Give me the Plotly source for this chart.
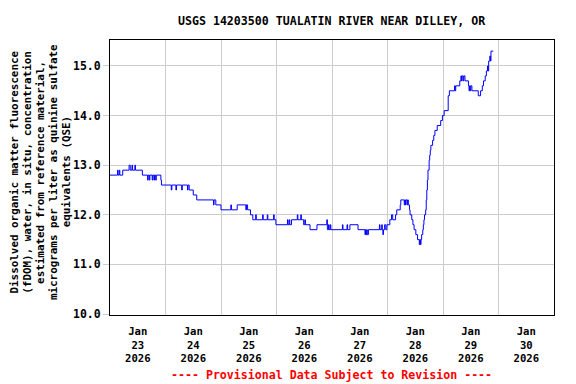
import plotly.graph_objects as go

# Breakpoints of the 15-minute fDOM record (step series)
times = [
    "2026-01-23 00:00", "2026-01-23 03:15", "2026-01-23 03:30", "2026-01-23 04:00", "2026-01-23 04:15",
    "2026-01-23 05:30", "2026-01-23 08:15", "2026-01-23 08:45", "2026-01-23 09:30", "2026-01-23 09:45",
    "2026-01-23 10:45", "2026-01-23 11:00", "2026-01-23 14:00", "2026-01-23 16:15", "2026-01-23 16:30",
    "2026-01-23 17:00", "2026-01-23 17:15", "2026-01-23 18:15", "2026-01-23 18:30", "2026-01-23 19:00",
    "2026-01-23 19:15", "2026-01-23 19:45", "2026-01-23 20:00", "2026-01-23 22:00", "2026-01-23 22:15",
    "2026-01-24 02:30", "2026-01-24 02:45", "2026-01-24 04:30", "2026-01-24 04:45", "2026-01-24 07:00",
    "2026-01-24 07:15", "2026-01-24 09:30", "2026-01-24 09:45", "2026-01-24 10:15", "2026-01-24 12:00",
    "2026-01-24 13:30", "2026-01-24 20:45", "2026-01-24 21:00", "2026-01-24 21:45", "2026-01-25 00:00",
    "2026-01-25 04:15", "2026-01-25 04:30", "2026-01-25 07:00", "2026-01-25 10:45", "2026-01-25 11:00",
    "2026-01-25 11:30", "2026-01-25 12:45", "2026-01-25 13:45", "2026-01-25 15:00", "2026-01-25 15:15",
    "2026-01-25 18:00", "2026-01-25 18:15", "2026-01-25 20:00", "2026-01-25 20:15", "2026-01-25 22:45",
    "2026-01-25 23:00", "2026-01-25 23:45", "2026-01-26 04:45", "2026-01-26 05:00", "2026-01-26 05:30",
    "2026-01-26 05:45", "2026-01-26 06:30", "2026-01-26 09:00", "2026-01-26 09:15", "2026-01-26 10:30",
    "2026-01-26 10:45", "2026-01-26 11:45", "2026-01-26 12:15", "2026-01-26 12:30", "2026-01-26 14:30",
    "2026-01-26 17:30", "2026-01-26 21:45", "2026-01-26 22:00", "2026-01-26 22:30", "2026-01-26 22:45",
    "2026-01-26 23:15", "2026-01-26 23:30", "2026-01-27 04:30", "2026-01-27 04:45", "2026-01-27 06:30",
    "2026-01-27 06:45", "2026-01-27 07:45", "2026-01-27 11:15", "2026-01-27 14:15", "2026-01-27 14:30",
    "2026-01-27 14:45", "2026-01-27 15:00", "2026-01-27 15:15", "2026-01-27 15:45", "2026-01-27 20:30",
    "2026-01-27 20:45", "2026-01-27 21:30", "2026-01-27 21:45", "2026-01-27 22:00", "2026-01-27 22:15",
    "2026-01-27 22:45", "2026-01-27 23:15", "2026-01-27 23:45", "2026-01-28 01:00", "2026-01-28 01:45",
    "2026-01-28 02:15", "2026-01-28 03:30", "2026-01-28 04:00", "2026-01-28 05:30", "2026-01-28 05:45",
    "2026-01-28 07:15", "2026-01-28 07:30", "2026-01-28 07:45", "2026-01-28 08:00", "2026-01-28 08:30",
    "2026-01-28 08:45", "2026-01-28 09:00", "2026-01-28 09:30", "2026-01-28 09:45", "2026-01-28 10:30",
    "2026-01-28 11:00", "2026-01-28 11:30", "2026-01-28 12:15", "2026-01-28 13:00", "2026-01-28 13:45",
    "2026-01-28 14:00", "2026-01-28 14:15", "2026-01-28 14:30", "2026-01-28 14:45", "2026-01-28 15:15",
    "2026-01-28 15:30", "2026-01-28 15:45", "2026-01-28 16:00", "2026-01-28 16:30", "2026-01-28 16:45",
    "2026-01-28 17:00", "2026-01-28 17:15", "2026-01-28 17:30", "2026-01-28 18:00", "2026-01-28 18:15",
    "2026-01-28 18:30", "2026-01-28 18:45", "2026-01-28 19:30", "2026-01-28 20:00", "2026-01-28 20:30",
    "2026-01-28 21:30", "2026-01-28 23:00", "2026-01-28 23:45", "2026-01-29 00:30", "2026-01-29 02:15",
    "2026-01-29 02:45", "2026-01-29 05:00", "2026-01-29 05:15", "2026-01-29 05:30", "2026-01-29 07:15",
    "2026-01-29 07:45", "2026-01-29 08:00", "2026-01-29 08:15", "2026-01-29 08:45", "2026-01-29 09:00",
    "2026-01-29 09:30", "2026-01-29 11:00", "2026-01-29 11:15", "2026-01-29 11:30", "2026-01-29 11:45",
    "2026-01-29 12:00", "2026-01-29 12:30", "2026-01-29 15:15", "2026-01-29 16:15", "2026-01-29 17:00",
    "2026-01-29 17:30", "2026-01-29 18:15", "2026-01-29 18:45", "2026-01-29 19:15", "2026-01-29 19:30",
    "2026-01-29 19:45", "2026-01-29 20:15", "2026-01-29 20:30", "2026-01-29 20:45", "2026-01-29 21:45",
]
values = [
    12.8, 12.9, 12.8, 12.9, 12.8,
    12.9, 13.0, 12.9, 13.0, 12.9,
    13.0, 12.9, 12.8, 12.7, 12.8,
    12.7, 12.8, 12.7, 12.8, 12.7,
    12.8, 12.7, 12.8, 12.7, 12.6,
    12.5, 12.6, 12.5, 12.6, 12.5,
    12.6, 12.5, 12.6, 12.5, 12.4,
    12.3, 12.2, 12.3, 12.2, 12.1,
    12.2, 12.1, 12.2, 12.1, 12.2,
    12.1, 12.0, 11.9, 12.0, 11.9,
    12.0, 11.9, 12.0, 11.9, 12.0,
    11.9, 11.8, 11.9, 11.8, 11.9,
    11.8, 11.9, 12.0, 11.9, 12.0,
    11.9, 11.8, 11.9, 11.8, 11.7,
    11.8, 11.9, 11.7, 11.8, 11.7,
    11.8, 11.7, 11.8, 11.7, 11.8,
    11.7, 11.8, 11.7, 11.6, 11.7,
    11.6, 11.7, 11.6, 11.7, 11.8,
    11.7, 11.8, 11.7, 11.6, 11.7,
    11.8, 11.7, 11.8, 11.9, 12.0,
    11.9, 12.0, 12.1, 12.2, 12.3,
    12.2, 12.3, 12.2, 12.3, 12.2,
    12.3, 12.2, 12.1, 12.0, 11.9,
    11.8, 11.7, 11.6, 11.5, 11.4,
    11.5, 11.4, 11.5, 11.6, 11.7,
    11.8, 11.9, 12.0, 12.1, 12.3,
    12.5, 12.7, 12.9, 13.1, 13.2,
    13.3, 13.4, 13.5, 13.6, 13.7,
    13.8, 13.9, 14.0, 14.1, 14.4,
    14.5, 14.6, 14.5, 14.6, 14.7,
    14.8, 14.7, 14.8, 14.7, 14.8,
    14.7, 14.6, 14.5, 14.6, 14.5,
    14.6, 14.5, 14.4, 14.5, 14.6,
    14.7, 14.8, 14.9, 15.0, 14.9,
    15.1, 15.2, 15.1, 15.3, 15.3,
]

day_ticks = ["2026-01-%02d 12:00" % d for d in range(23, 31)]
day_labels = ["Jan<br>%d<br>2026" % d for d in range(23, 31)]
y_ticks = [10.0, 11.0, 12.0, 13.0, 14.0, 15.0]

title_text = "USGS 14203500 TUALATIN RIVER NEAR DILLEY, OR"
ytitle_lines = [
    "Dissolved organic matter fluorescence",
    "(fDOM), water, in situ, concentration",
    "estimated from reference material,",
    "micrograms per liter as quinine sulfate",
    "equivalents (QSE)",
]
footer_text = "---- Provisional Data Subject to Revision ----"

FONT = "DejaVu Sans Mono"
OFF = 8                      # page body margin of the html page
W, H = 576 - OFF, 384 - OFF
L, R, T, B = 110 - OFF, 22, 40 - OFF, 69
PW, PH = W - L - R, H - T - B


def px_x(page_x):
    return (page_x - OFF - L) / PW


def px_y(page_y):
    return 1 - (page_y - OFF - T) / PH


fig = go.Figure()
fig.add_trace(go.Scatter(
    x=times, y=values, mode="lines",
    line=dict(color="#0000ff", width=1, shape="hv"),
    hoverinfo="skip", showlegend=False,
))

annotations = [
    dict(text=title_text, xref="paper", yref="paper",
         x=px_x(331), y=px_y(20.5), xanchor="center", yanchor="middle",
         showarrow=False, font=dict(family=FONT, size=11.6, color="black", weight="bold")),
    dict(text=footer_text, xref="paper", yref="paper",
         x=px_x(331.5), y=px_y(375), xanchor="center", yanchor="middle",
         showarrow=False, font=dict(family=FONT, size=11.6, color="#ff0000", weight="bold")),
]
for i, line in enumerate(ytitle_lines):
    annotations.append(dict(
        text=line, xref="paper", yref="paper",
        x=px_x(13.5 + 13.2 * i), y=px_y(172),
        xanchor="center", yanchor="middle", textangle=-90,
        showarrow=False, font=dict(family=FONT, size=10.9, color="black", weight="bold"),
    ))

fig.update_layout(
    width=W, height=H,
    margin=dict(l=L, r=R, t=T, b=B, pad=0),
    paper_bgcolor="white", plot_bgcolor="white",
    annotations=annotations,
    xaxis=dict(
        range=["2026-01-23 00:00", "2026-01-31 00:00"],
        tickmode="array", tickvals=day_ticks, ticktext=day_labels,
        ticks="", showgrid=False, zeroline=False,
        showline=True, mirror=True, linecolor="black", linewidth=1,
        ticklabelstandoff=6,
        tickfont=dict(family=FONT, size=10.6, color="black", weight="bold"),
        minor=dict(dtick=86400000, tick0="2026-01-23", showgrid=True,
                   gridcolor="#cccccc", gridwidth=1, ticks=""),
    ),
    yaxis=dict(
        range=[9.98, 15.524],
        tickmode="array", tickvals=y_ticks, tickformat=".1f",
        ticks="outside", ticklen=6, tickcolor="#cccccc",
        showgrid=True, gridcolor="#cccccc", gridwidth=1, zeroline=False,
        showline=True, mirror=True, linecolor="black", linewidth=1,
        tickfont=dict(family=FONT, size=11.5, color="black", weight="bold"),
    ),
)

fig.write_html("out.html")
